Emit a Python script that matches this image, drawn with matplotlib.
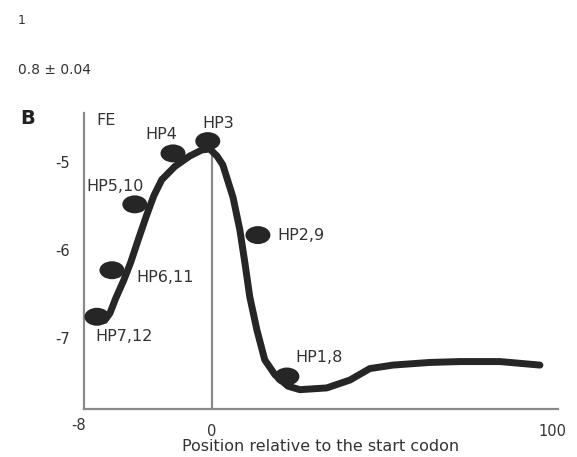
import matplotlib
matplotlib.use('Agg')
import matplotlib.pyplot as plt
from matplotlib.patches import Ellipse

plt.rcParams['font.family'] = ['DejaVu Sans']

# ==================== 数据 ====================
# 自由能曲线（相对起始密码子位置）
curve_x = [-31.4, -29.9, -28.2, -25.8, -23.8, -21.4, -19.1, -17.0, -14.7, -10.9,
           -6.5, -2.9, -0.6, 1.5, 3.2, 6.2, 8.2, 9.7, 11.1, 13.2,
           15.5, 18.5, 22.3, 25.8, 33.7, 40.5, 46.3, 53.1, 63.9, 72.7,
           84.5, 96.2]
curve_fe = [-6.80, -6.72, -6.55, -6.34, -6.14, -5.86, -5.60, -5.38, -5.20, -5.05,
            -4.93, -4.86, -4.85, -4.93, -5.03, -5.40, -5.77, -6.15, -6.53, -6.91,
            -7.25, -7.42, -7.55, -7.59, -7.57, -7.48, -7.35, -7.31, -7.28, -7.27,
            -7.27, -7.31]

# 发夹点
hp_names = ['HP7,12', 'HP6,11', 'HP5,10', 'HP4', 'HP3', 'HP2,9', 'HP1,8']
hp_x = [-33.7, -29.3, -22.6, -11.4, -1.2, 13.5, 22.0]
hp_fe = [-6.76, -6.23, -5.48, -4.90, -4.76, -5.83, -7.44]
# 标签位置
lab_x = [-34.3, -22.0, -36.9, -19.6, -2.9, 19.1, 24.6]
lab_fe = [-6.99, -6.31, -5.28, -4.69, -4.56, -5.84, -7.22]

y_ticks = [-5, -6, -7]
x_ticks = [0, 100]

W, H = 577, 457
fig = plt.figure(figsize=(W / 100, H / 100), dpi=100)

# 轴区域（像素换算）
x0, x1, y0, y1 = 84, 558, 113, 409
ax = fig.add_axes([x0 / W, 1 - y1 / H, (x1 - x0) / W, (y1 - y0) / H])
ax.set_xlim(-37.5, 101.5)
ax.set_ylim(-7.81, -4.44)

txt_col = '#333333'
spine_col = '#8a8a8a'
dark = '#262626'
fs = 11.5

for s in ['top', 'right']:
    ax.spines[s].set_visible(False)
for s in ['left', 'bottom']:
    ax.spines[s].set_color(spine_col)
    ax.spines[s].set_linewidth(1.6)

ax.set_yticks(y_ticks)
ax.set_yticklabels([str(v) for v in y_ticks])
ax.set_xticks(x_ticks)
ax.set_xticklabels([str(v) for v in x_ticks])
ax.tick_params(axis='both', length=0, labelsize=10.5, colors=txt_col)
ax.tick_params(axis='y', pad=10)
ax.tick_params(axis='x', pad=11)
ax.text(-37.0, -8.0, '-8', ha='right', va='center', fontsize=10.5, color=txt_col,
        clip_on=False, transform=ax.transData)

# 起始密码子处竖线
ax.plot([0, 0], [-7.81, -4.85], color=spine_col, lw=1.6, zorder=1)

ax.plot(curve_x, curve_fe, color=dark, lw=5, solid_capstyle='round',
        solid_joinstyle='round', zorder=2)

# 椭圆点
for x, y in zip(hp_x, hp_fe):
    ax.add_patch(Ellipse((x, y), width=25 / 3.41, height=18 / 88,
                         facecolor=dark, edgecolor='none', zorder=3))

for name, x, y in zip(hp_names, lab_x, lab_fe):
    ax.text(x, y, name, ha='left', va='center', fontsize=fs, color=txt_col)

ax.text(-34.0, -4.52, 'FE', ha='left', va='center', fontsize=fs, color=txt_col)

ax.set_xlabel('Position relative to the start codon', fontsize=11.5, color=txt_col, labelpad=0)


def px(x, y):
    return x / W, 1 - y / H


fig.text(*px(18, 20), '1', ha='left', va='center', fontsize=9, color=txt_col)
fig.text(*px(18, 70), '0.8 ± 0.04', ha='left', va='center', fontsize=10, color=txt_col)
fig.text(*px(20, 118), 'B', ha='left', va='center', fontsize=14, fontweight='bold', color='#222222')

plt.savefig('out.png', dpi=100)
plt.close()
